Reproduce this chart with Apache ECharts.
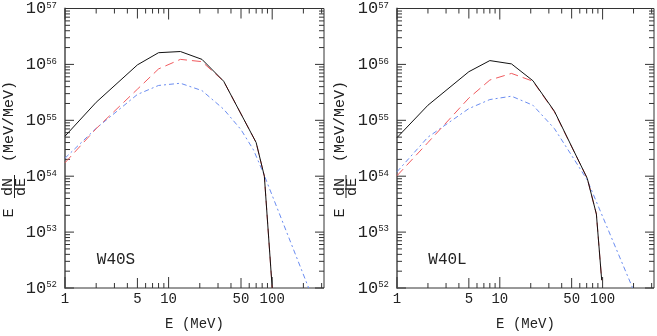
<!DOCTYPE html>
<html>
<head>
<meta charset="utf-8">
<script src="https://cdn.jsdelivr.net/npm/echarts@6/dist/echarts.min.js"></script>
<style>
  html, body { margin: 0; padding: 0; background: #fff; }
  #chart { width: 657px; height: 336px; }
</style>
</head>
<body>
<div id="chart"></div>
<script>
// W40S panel (left)
const w40sE = [1, 2, 5, 8, 13, 21, 34, 70, 84, 100];
const w40sTotal = [5.2e54, 2.1e55, 9.8e55, 1.62e56, 1.7e56, 1.23e56, 5.0e55, 4.0e54, 1.0e54, 1.0e52];
const w40sRed = [1.74e54, 7.1e54, 3.6e55, 8.3e55, 1.23e56, 1.12e56, 5.0e55, 4.0e54, 1.0e54, 1.0e52];
const w40sBlueE = [1, 2, 5, 8, 13, 21, 34, 50, 66, 82, 225];
const w40sBlue = [2.1e54, 7.2e54, 2.9e55, 4.2e55, 4.6e55, 3.4e55, 1.58e55, 6.8e54, 2.95e54, 1.15e54, 1.0e52];

// W40L panel (right)
const w40lE = [1, 2, 5, 8, 13, 21, 34, 71, 87, 98];
const w40lTotal = [4.9e54, 1.86e55, 7.4e55, 1.17e56, 1.02e56, 5.1e55, 1.45e55, 9.1e53, 2.1e53, 1.38e52];
const w40lRed = [1.02e54, 4.0e54, 2.5e55, 5.25e55, 6.9e55, 5.0e55, 1.41e55, 9.1e53, 2.1e53, 1.38e52];
const w40lBlueE = [1, 2, 5, 8, 13, 21, 34, 50, 71, 196];
const w40lBlue = [1.2e54, 5.0e54, 1.62e55, 2.35e55, 2.7e55, 1.86e55, 7.1e54, 2.35e54, 8.5e53, 1.0e52];

// axis ticks / labels
const xLabels = [1, 5, 10, 50, 100];
const xMajorTicks = [1, 10, 100];
const xMidTicks = [5, 50];
const xMinorTicks = [2, 3, 4, 6, 7, 8, 9, 20, 30, 40, 60, 70, 80, 90, 200, 300];
const yExponents = [52, 53, 54, 55, 56, 57];
const yMinorMant = [2, 3, 4, 5, 6, 7, 8, 9];

const X_MIN = 1, X_MAX = Math.pow(10, 2.5);
const Y_MIN = 1e52, Y_MAX = 1e57;
const FONT = '"Liberation Mono", "DejaVu Sans Mono", monospace';
const INK = '#222';
const RED = '#f05a5e';
const BLUE = '#6a8cf0';

const zip = (xs, ys) => xs.map((x, i) => [x, ys[i]]);

function tickRender(params, api) {
  const kids = [];
  const tick = (x1, y1, x2, y2) => kids.push({
    type: 'line', shape: { x1, y1, x2, y2 }, style: { stroke: '#333', lineWidth: 1 }
  });
  const xTick = (v, len) => {
    const b = api.coord([v, Y_MIN]);
    const t = api.coord([v, Y_MAX]);
    tick(b[0], b[1], b[0], b[1] - len);
    tick(t[0], t[1], t[0], t[1] + len);
  };
  xMajorTicks.forEach(v => xTick(v, 11));
  xMidTicks.forEach(v => xTick(v, 10));
  xMinorTicks.forEach(v => xTick(v, 5));
  const yTick = (v, len) => {
    const l = api.coord([X_MIN, v]);
    const r = api.coord([X_MAX, v]);
    tick(l[0], l[1], l[0] + len, l[1]);
    tick(r[0], r[1], r[0] - len, r[1]);
  };
  yExponents.forEach(e => {
    yTick(Math.pow(10, e), 9);
    if (e < 57) yMinorMant.forEach(m => yTick(m * Math.pow(10, e), 5));
  });
  xLabels.forEach(v => {
    const p = api.coord([v, Y_MIN]);
    kids.push({
      type: 'text',
      style: { text: String(v), x: p[0], y: p[1] + 11, align: 'center', verticalAlign: 'middle',
               font: '14px ' + FONT, fill: INK }
    });
  });
  return { type: 'group', children: kids };
}

function yTitle(px) {
  return {
    type: 'group', x: px, y: 250, rotation: Math.PI / 2, silent: true,
    children: [
      { type: 'text', style: { text: '(MeV/MeV)', x: 128.5, y: 9, align: 'center', verticalAlign: 'middle', font: '15px ' + FONT, fill: INK } },
      { type: 'text', style: { text: 'E', x: 37, y: 9, align: 'center', verticalAlign: 'middle', font: '15px ' + FONT, fill: INK } },
      { type: 'text', style: { text: 'dN', x: 63, y: 8.5, align: 'center', verticalAlign: 'middle', font: '15px ' + FONT, fill: INK } },
      { type: 'line', shape: { x1: 52, y1: 14.5, x2: 75, y2: 14.5 }, style: { stroke: INK, lineWidth: 1 } },
      { type: 'text', style: { text: 'dE', x: 63, y: 21, align: 'center', verticalAlign: 'middle', font: '15px ' + FONT, fill: INK } }
    ]
  };
}

function xAxisFor(i) {
  return {
    gridIndex: i, type: 'log', logBase: 10, min: X_MIN, max: X_MAX,
    axisLine: { show: false }, axisTick: { show: false }, axisLabel: { show: false },
    splitLine: { show: false },
    name: 'E (MeV)', nameLocation: 'middle', nameGap: 36,
    nameTextStyle: { fontFamily: FONT, fontSize: 14, color: INK, verticalAlign: 'middle' }
  };
}

function yAxisFor(i) {
  return {
    gridIndex: i, type: 'log', logBase: 10, min: Y_MIN, max: Y_MAX, splitNumber: 5,
    axisLine: { show: true, lineStyle: { color: '#777', width: 2 } },
    axisTick: { show: false }, splitLine: { show: false },
    axisLabel: {
      margin: 8, showMinLabel: true, showMaxLabel: true,
      formatter: v => '{b|10}{s|' + Math.round(Math.log10(v)) + '}',
      rich: {
        b: { fontFamily: FONT, fontSize: 17, color: INK },
        s: { fontFamily: FONT, fontSize: 9, color: INK, verticalAlign: 'top', padding: [1, 0, 0, 0] }
      }
    }
  };
}

function lineSeries(i, data, color, type, width) {
  return {
    type: 'line', xAxisIndex: i, yAxisIndex: i, data, symbol: 'none', silent: true,
    lineStyle: { color, width, type }, animation: false, clip: true
  };
}

const chart = echarts.init(document.getElementById('chart'), null, { renderer: 'canvas' });
chart.setOption({
  backgroundColor: '#fff',
  animation: false,
  grid: [
    { left: 65, right: 333, top: 6, bottom: 44, show: true, borderColor: '#333', borderWidth: 1 },
    { left: 397, right: 3, top: 6, bottom: 44, show: true, borderColor: '#333', borderWidth: 1 }
  ],
  xAxis: [xAxisFor(0), xAxisFor(1)],
  yAxis: [yAxisFor(0), yAxisFor(1)],
  graphic: [
    yTitle(0),
    yTitle(331.5),
    { type: 'text', style: { text: 'W40S', x: 116, y: 260, align: 'center', verticalAlign: 'middle', font: '16px ' + FONT, fill: INK } },
    { type: 'text', style: { text: 'W40L', x: 447.5, y: 260, align: 'center', verticalAlign: 'middle', font: '16px ' + FONT, fill: INK } }
  ],
  series: [
    { type: 'custom', xAxisIndex: 0, yAxisIndex: 0, data: [[1, 1e52]], renderItem: tickRender, silent: true },
    { type: 'custom', xAxisIndex: 1, yAxisIndex: 1, data: [[1, 1e52]], renderItem: tickRender, silent: true },
    lineSeries(0, zip(w40sBlueE, w40sBlue), BLUE, [5, 3, 2, 3], 1),
    lineSeries(0, zip(w40sE, w40sRed), RED, [9, 5], 1),
    lineSeries(0, zip(w40sE, w40sTotal), '#111', 'solid', 1),
    lineSeries(1, zip(w40lBlueE, w40lBlue), BLUE, [5, 3, 2, 3], 1),
    lineSeries(1, zip(w40lE, w40lRed), RED, [9, 5], 1),
    lineSeries(1, zip(w40lE, w40lTotal), '#111', 'solid', 1)
  ]
});
</script>
</body>
</html>
